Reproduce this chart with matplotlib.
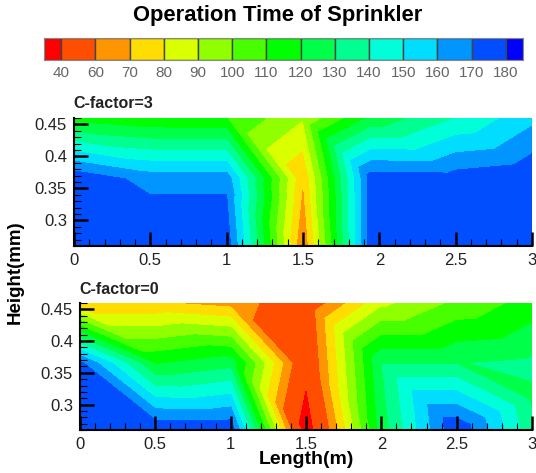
import numpy as np
import matplotlib
matplotlib.use('Agg')
import matplotlib.pyplot as plt
import matplotlib.tri as mtri

plt.rcParams['font.family'] = ['Liberation Sans', 'DejaVu Sans']

levels = [0, 40, 60, 70, 80, 90, 100, 110, 120, 130, 140, 150, 160, 170, 180, 300]
band_colors = ['#ff0000', '#ff4e00', '#ff9500', '#ffdd00', '#d9ff00', '#90ff00', '#48ff00', '#00ff00',
               '#00ff48', '#00ff90', '#00ffd9', '#00ddff', '#0095ff', '#004eff', '#0000ff']
bar_labels = ['40', '60', '70', '80', '90', '100', '110', '120', '130', '140', '150', '160', '170', '180']

# measuring points, rows go from bottom to top
length_c3 = [0, 0.5, 1.0, 1.5, 1.95, 2.5, 3.0]
height_c3 = [0.26, 0.34, 0.365, 0.46]
time_c3 = [
    [176, 176, 176, 61, 176, 176, 176],
    [176, 170, 170, 68, 176, 176, 176],
    [178, 166, 166, 70.5, 176, 175, 179],
    [116, 111, 110, 90.5, 122, 140, 157],
]

length_c0 = [0, 0.5, 1.0, 1.5, 2.0, 2.5, 3.0]
height_c0 = [0.26, 0.365, 0.46]
time_c0 = [
    [179, 179, 178, 30, 124, 179, 133],
    [173, 119, 126, 45, 129.5, 129.5, 132],
    [71, 71, 66, 50, 87, 102, 114],
]
# one more point on the right edge of the C-factor=0 panel
edge_length = 3.0
edge_height = 0.31
edge_time = 128


def make_mesh(xs, ys, extra=None):
    # every cell is cut from upper left to lower right
    X, Y = np.meshgrid(xs, ys)
    px = list(X.ravel())
    py = list(Y.ravel())
    nx = len(xs)
    triangles = []
    for j in range(len(ys) - 1):
        for i in range(nx - 1):
            ll = j * nx + i
            lr = ll + 1
            ul = ll + nx
            ur = ul + 1
            if extra is not None and j == 0 and i == nx - 2:
                px.append(extra[0])
                py.append(extra[1])
                mid = len(px) - 1
                triangles += [[ll, lr, mid], [ll, mid, ul], [mid, ur, ul]]
            else:
                triangles.append([ll, lr, ul])
                triangles.append([lr, ur, ul])
    return mtri.Triangulation(px, py, triangles)


def draw_panel(rect, mesh, values):
    ax = fig.add_axes(rect)
    ax.tricontourf(mesh, values, levels=levels, colors=band_colors)
    ax.set_xlim(0, 3)
    ax.set_ylim(0.26, 0.46)
    ax.set_xticks(np.arange(0, 3.01, 0.5))
    ax.set_xticklabels(['0', '0.5', '1', '1.5', '2', '2.5', '3'])
    ax.set_yticks([0.3, 0.35, 0.4, 0.45])
    ax.set_yticklabels(['0.3', '0.35', '0.4', '0.45'])
    ax.set_xticks(np.arange(0, 3.01, 0.1), minor=True)
    ax.set_yticks(np.arange(0.26, 0.461, 0.01), minor=True)
    ax.tick_params(which='major', direction='in', length=10, width=1.8, labelsize=12, pad=5,
                   labelcolor='#222222')
    ax.tick_params(which='minor', direction='in', length=5, width=0.8)
    for side in ['top', 'right']:
        ax.spines[side].set_visible(False)
    for side in ['left', 'bottom']:
        ax.spines[side].set_linewidth(1.5)
    return ax


W, H = 536, 473
fig = plt.figure(figsize=(W / 100, H / 100), dpi=100)

fig.text(278 / W, 1 - 16 / H, 'Operation Time of Sprinkler', fontsize=15.8, fontweight='bold',
         ha='center', va='center')

# colour bar, end boxes are half width
bar_ax = fig.add_axes([44 / W, 1 - 60 / H, 479 / W, 22 / H])
widths = [0.5] + [1] * 13 + [0.5]
lefts = np.cumsum([0] + widths[:-1])
bar_ax.bar(lefts, 1, width=widths, align='edge', color=band_colors, edgecolor='#444444', linewidth=1)
bar_ax.set_xlim(0, 14)
bar_ax.set_ylim(0, 1)
bar_ax.set_yticks([])
bar_ax.set_xticks(lefts[1:])
bar_ax.set_xticklabels(bar_labels)
bar_ax.tick_params(axis='x', length=0, labelsize=11, labelcolor='#666666', pad=4)
for s in bar_ax.spines.values():
    s.set_color('#888888')

ax1 = draw_panel([74 / W, 1 - 246 / H, 458 / W, 128 / H], make_mesh(length_c3, height_c3),
                 np.array(time_c3).ravel())
ax2 = draw_panel([80 / W, 1 - 430 / H, 452 / W, 127 / H],
                 make_mesh(length_c0, height_c0, (edge_length, edge_height)),
                 np.append(np.array(time_c0).ravel(), edge_time))

fig.text(73 / W, 1 - 103 / H, 'C-factor=3', fontsize=11.5, fontweight='bold', ha='left', va='center', color='#222222')
fig.text(79 / W, 1 - 290 / H, 'C-factor=0', fontsize=11.5, fontweight='bold', ha='left', va='center', color='#222222')

fig.text(15 / W, 1 - 272 / H, 'Height(mm)', rotation=90, fontsize=13.5, fontweight='bold', ha='center', va='center')
fig.text(306 / W, 1 - 459 / H, 'Length(m)', fontsize=14, fontweight='bold', ha='center', va='center')

fig.savefig('out.png', dpi=100)
